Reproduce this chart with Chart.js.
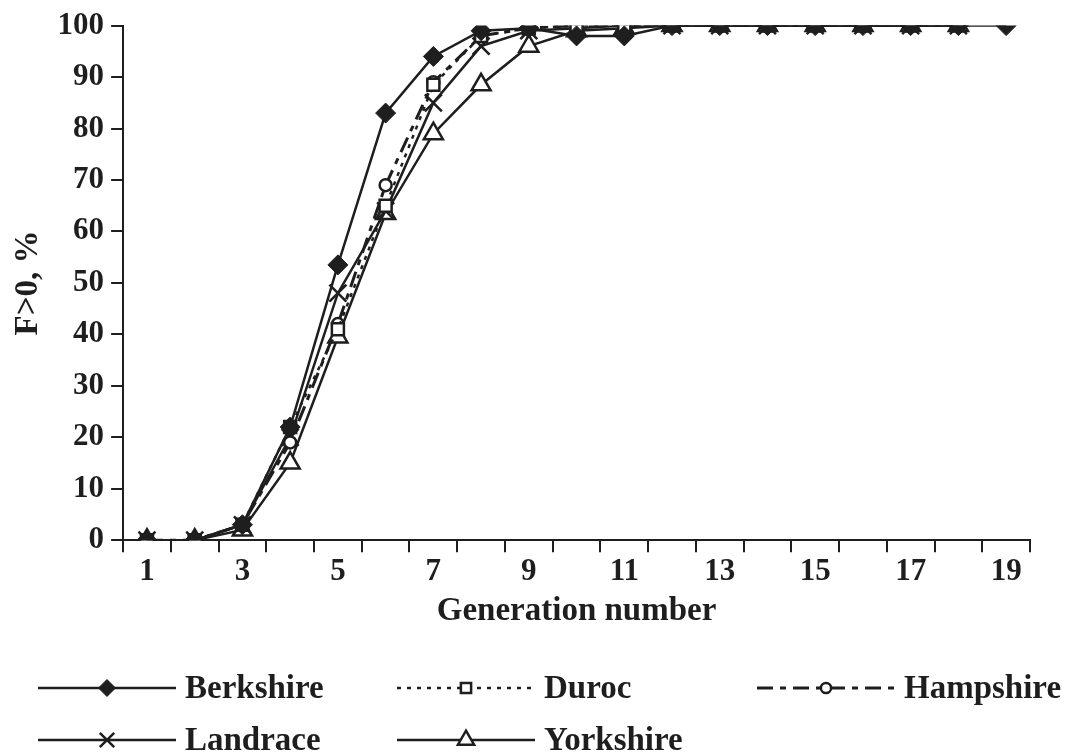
<!DOCTYPE html>
<html>
<head>
<meta charset="utf-8">
<script src="https://cdn.jsdelivr.net/npm/chart.js@4.4.1/dist/chart.umd.min.js"></script>
<style>
  html, body { margin: 0; padding: 0; background: #fff; }
  #wrap { width: 1075px; height: 756px; position: relative; }
</style>
</head>
<body>
<div id="wrap"><canvas id="c" width="1075" height="756"></canvas></div>
<script>
const generations = ['1','2','3','4','5','6','7','8','9','10','11','12','13','14','15','16','17','18','19'];
const berkshire = [0, 0, 3, 22, 53.5, 83, 94, 99, 99.5, 98, 98, 100, 100, 100, 100, 100, 100, 100, 100];
const duroc     = [0, 0, 3, 22, 41, 65, 88.5, 98, 99.5, 100, 100, 100, 100, 100, 100, 100, 100, 100, null];
const hampshire = [0, 0, 3, 19, 42, 69, 89, 98, 99.5, 100, 100, 100, 100, 100, 100, 100, 100, 100, null];
const landrace  = [0, 0, 3, 20, 48, 64, 85, 96, 99, 99.5, 100, 100, 100, 100, 100, 100, 100, 100, null];
const yorkshire = [0, 0, 2, 15, 39.5, 63.5, 79, 88.5, 96, 99, 99.5, 100, 100, 100, 100, 100, 100, 100, null];
const seriesNames = ['Berkshire', 'Duroc', 'Hampshire', 'Landrace', 'Yorkshire'];

const INK = '#1e1e1e';
const FONT = "'Liberation Serif', 'Times New Roman', serif";

const datasets = [
  { label: seriesNames[0], data: berkshire, borderColor: INK, borderWidth: 2.5, borderDash: [],
    pointStyle: 'rectRot', pointRadius: 10, pointBackgroundColor: INK, pointBorderColor: INK, pointBorderWidth: 1 },
  { label: seriesNames[1], data: duroc, borderColor: INK, borderWidth: 2.5, borderDash: [4, 6],
    pointStyle: 'rect', pointRadius: 8.5, pointBackgroundColor: '#fff', pointBorderColor: INK, pointBorderWidth: 2.5 },
  { label: seriesNames[2], data: hampshire, borderColor: INK, borderWidth: 3, borderDash: [16, 7, 6, 7],
    pointStyle: 'circle', pointRadius: 6, pointBackgroundColor: '#fff', pointBorderColor: INK, pointBorderWidth: 2.5 },
  { label: seriesNames[3], data: landrace, borderColor: INK, borderWidth: 2.5, borderDash: [],
    pointStyle: 'crossRot', pointRadius: 12, pointBackgroundColor: INK, pointBorderColor: INK, pointBorderWidth: 2.5 },
  { label: seriesNames[4], data: yorkshire, borderColor: INK, borderWidth: 2.5, borderDash: [],
    pointStyle: 'triangle', pointRadius: 11, pointBackgroundColor: '#fff', pointBorderColor: INK, pointBorderWidth: 2.5 }
].map(d => Object.assign({ fill: false, tension: 0, spanGaps: false, pointHoverRadius: d.pointRadius }, d));

// Custom two-row legend drawn below the chart, using each dataset's own style
const legendPlugin = {
  id: 'bottomLegend',
  afterDraw(chart) {
    const ctx = chart.ctx;
    const slots = [
      { x: 38, y: 688 }, { x: 397, y: 688 }, { x: 757, y: 688 },
      { x: 38, y: 740 }, { x: 397, y: 740 }
    ];
    const sampleLen = 138;
    chart.data.datasets.forEach((ds, i) => {
      const s = slots[i];
      ctx.save();
      ctx.strokeStyle = ds.borderColor;
      ctx.lineWidth = ds.borderWidth;
      ctx.setLineDash(ds.borderDash || []);
      ctx.beginPath();
      ctx.moveTo(s.x, s.y);
      ctx.lineTo(s.x + sampleLen, s.y);
      ctx.stroke();
      ctx.setLineDash([]);
      ctx.fillStyle = ds.pointBackgroundColor;
      ctx.strokeStyle = ds.pointBorderColor;
      ctx.lineWidth = ds.pointBorderWidth;
      Chart.helpers.drawPoint(ctx, {
        pointStyle: ds.pointStyle, radius: ds.pointRadius * 0.85, rotation: 0, borderWidth: ds.pointBorderWidth
      }, s.x + sampleLen / 2, s.y);
      ctx.fillStyle = INK;
      ctx.font = "bold 33px " + FONT;
      ctx.textBaseline = 'middle';
      ctx.textAlign = 'left';
      ctx.fillText(ds.label, s.x + sampleLen + 9, s.y + 1);
      ctx.restore();
    });
  }
};

new Chart(document.getElementById('c'), {
  type: 'line',
  data: { labels: generations, datasets },
  options: {
    responsive: false,
    animation: false,
    events: [],
    layout: { padding: { top: 0, right: 45, bottom: 125, left: 9 } },
    plugins: { legend: { display: false }, tooltip: { enabled: false } },
    scales: {
      x: {
        type: 'category',
        offset: true,
        border: { display: true, color: INK, width: 2 },
        grid: { offset: true, drawOnChartArea: false, drawTicks: true, tickLength: 12, color: INK, lineWidth: 2 },
        ticks: {
          autoSkip: false, maxRotation: 0, color: INK, padding: 1,
          font: { family: FONT, weight: 'bold', size: 31 },
          callback: function (v, i) { const l = this.getLabelForValue(v); return (+l) % 2 === 1 ? l : ''; }
        },
        title: { display: true, text: 'Generation number', color: INK, padding: { top: 0, bottom: 0 },
          font: { family: FONT, weight: 'bold', size: 33 } }
      },
      y: {
        min: 0, max: 100,
        border: { display: true, color: INK, width: 2 },
        grid: { drawOnChartArea: false, drawTicks: true, tickLength: 12, color: INK, lineWidth: 2 },
        ticks: { stepSize: 10, color: INK, padding: 7, font: { family: FONT, weight: 'bold', size: 31 } },
        title: { display: true, text: 'F>0, %', color: INK, padding: { top: 0, bottom: 2 },
          font: { family: FONT, weight: 'bold', size: 33 } }
      }
    }
  },
  plugins: [legendPlugin]
});
</script>
</body>
</html>
